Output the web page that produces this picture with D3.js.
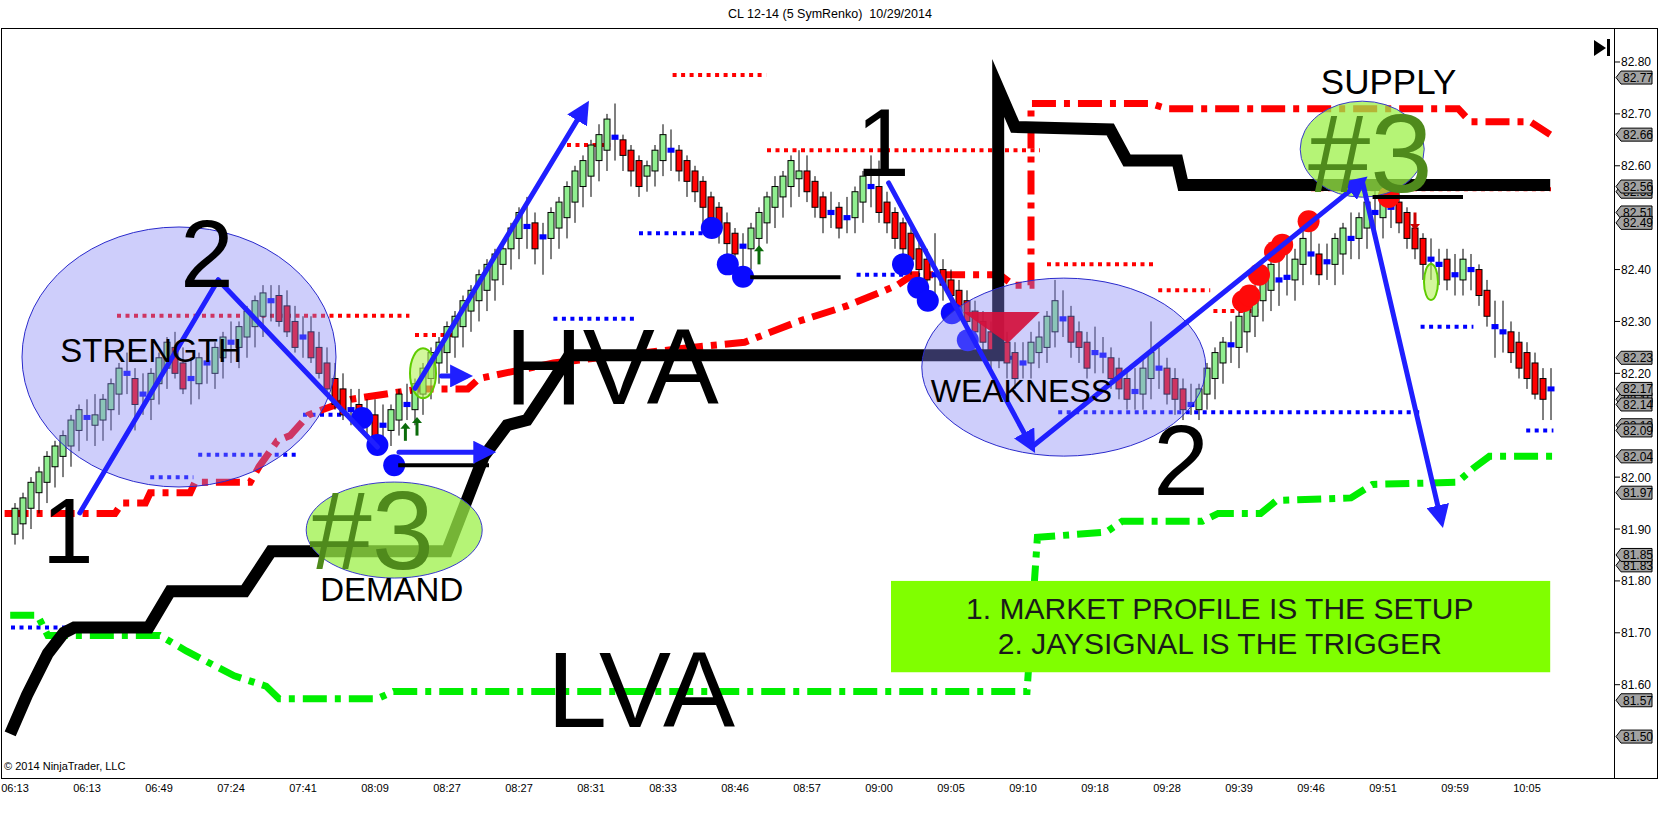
<!DOCTYPE html>
<html><head><meta charset="utf-8">
<script src="https://cdn.jsdelivr.net/npm/d3@7"></script>
<style>body{margin:0;background:#fff;}svg{display:block;font-family:"Liberation Sans",Arial,sans-serif;}</style>
</head><body><svg id="c" width="1661" height="818"></svg>
<script>
// ---------- DATA ----------
const title = "CL 12-14 (5 SymRenko)\u00A0\u00A010/29/2014";
const xLabels = ["06:13","06:13","06:49","07:24","07:41","08:09","08:27","08:27","08:31","08:33","08:46","08:57","09:00","09:05","09:10","09:18","09:28","09:39","09:46","09:51","09:59","10:05"];
const yTicks = [81.6,81.7,81.8,81.9,82.0,82.2,82.3,82.4,82.6,82.7,82.8];
const priceMarkers = [82.55,82.77,82.66,82.56,82.51,82.49,82.23,82.15,82.17,82.14,82.10,82.09,82.04,81.97,81.83,81.85,81.57,81.50];
// candles: [open, close, high, low]
const ohlc = [
[81.89,81.94,81.95,81.87],[81.91,81.96,81.97,81.88],[81.94,81.99,82.00,81.90],[81.97,82.01,82.02,81.93],
[81.99,82.04,82.05,81.95],[82.02,82.06,82.07,81.98],[82.04,82.08,82.09,82.00],[82.06,82.11,82.12,82.02],
[82.09,82.13,82.14,82.05],[82.112,82.118,82.15,82.07],[82.10,82.12,82.16,82.06],[82.11,82.15,82.16,82.07],
[82.13,82.18,82.19,82.09],[82.16,82.21,82.22,82.12],[82.195,82.205,82.24,82.16],[82.19,82.14,82.21,82.09],
[82.155,82.165,82.20,82.12],[82.15,82.20,82.21,82.11],[82.18,82.23,82.24,82.14],[82.21,82.26,82.27,82.17],
[82.25,82.20,82.28,82.19],[82.22,82.17,82.25,82.16],[82.185,82.195,82.23,82.14],[82.18,82.23,82.24,82.15],
[82.215,82.225,82.26,82.18],[82.20,82.25,82.26,82.17],[82.23,82.27,82.28,82.19],[82.255,82.265,82.30,82.22],
[82.25,82.29,82.30,82.21],[82.27,82.32,82.33,82.23],[82.29,82.34,82.35,82.25],[82.31,82.355,82.37,82.27],
[82.335,82.345,82.37,82.30],[82.35,82.30,82.37,82.29],[82.33,82.28,82.36,82.27],[82.30,82.25,82.33,82.24],
[82.265,82.275,82.31,82.23],[82.28,82.23,82.31,82.22],[82.25,82.20,82.28,82.19],[82.22,82.17,82.25,82.16],
[82.19,82.14,82.22,82.13],[82.17,82.12,82.20,82.11],[82.125,82.135,82.17,82.10],[82.14,82.10,82.17,82.09],
[82.105,82.115,82.15,82.08],[82.12,82.08,82.15,82.07],[82.095,82.105,82.14,82.07],[82.09,82.13,82.14,82.06],
[82.11,82.16,82.17,82.08],[82.135,82.145,82.18,82.11],[82.13,82.18,82.19,82.10],[82.16,82.21,82.22,82.12],
[82.19,82.24,82.25,82.15],[82.22,82.26,82.27,82.18],[82.24,82.29,82.30,82.20],[82.27,82.31,82.32,82.23],
[82.29,82.34,82.35,82.25],[82.32,82.36,82.37,82.28],[82.34,82.39,82.40,82.30],[82.36,82.41,82.42,82.32],
[82.38,82.43,82.44,82.34],[82.41,82.44,82.45,82.37],[82.44,82.48,82.49,82.40],[82.46,82.51,82.52,82.42],
[82.478,82.488,82.54,82.44],[82.49,82.44,82.51,82.41],[82.458,82.468,82.49,82.39],[82.46,82.51,82.52,82.42],
[82.48,82.53,82.54,82.44],[82.50,82.56,82.57,82.46],[82.53,82.59,82.60,82.49],[82.56,82.61,82.62,82.52],
[82.58,82.64,82.65,82.54],[82.61,82.66,82.68,82.57],[82.63,82.69,82.70,82.59],[82.65,82.66,82.72,82.61],
[82.65,82.62,82.66,82.59],[82.63,82.59,82.64,82.56],[82.61,82.56,82.62,82.54],[82.58,82.60,82.61,82.55],
[82.59,82.63,82.64,82.56],[82.61,82.66,82.68,82.58],[82.628,82.632,82.67,82.59],[82.63,82.59,82.64,82.57],
[82.61,82.57,82.62,82.54],[82.59,82.55,82.60,82.53],[82.57,82.52,82.58,82.49],[82.54,82.50,82.55,82.47],
[82.52,82.48,82.53,82.45],[82.49,82.45,82.51,82.43],[82.47,82.43,82.48,82.40],[82.44,82.45,82.47,82.40],
[82.44,82.48,82.49,82.40],[82.46,82.51,82.52,82.42],[82.49,82.54,82.55,82.45],[82.52,82.56,82.58,82.48],
[82.54,82.58,82.59,82.50],[82.56,82.61,82.62,82.52],[82.575,82.59,82.63,82.54],[82.59,82.55,82.62,82.53],
[82.57,82.52,82.58,82.50],[82.54,82.50,82.55,82.47],[82.505,82.515,82.55,82.48],[82.52,82.48,82.53,82.46],
[82.495,82.505,82.54,82.47],[82.50,82.55,82.56,82.47],[82.53,82.58,82.59,82.49],[82.555,82.565,82.62,82.52],
[82.56,82.51,82.61,82.49],[82.53,82.49,82.55,82.47],[82.51,82.46,82.52,82.44],[82.49,82.44,82.50,82.41],
[82.47,82.42,82.48,82.39],[82.44,82.40,82.46,82.37],[82.42,82.38,82.44,82.35],[82.385,82.395,82.47,82.34],
[82.40,82.37,82.42,82.34],[82.38,82.35,82.40,82.32],[82.36,82.32,82.38,82.30],[82.34,82.30,82.36,82.27],
[82.32,82.28,82.34,82.26],[82.30,82.26,82.32,82.24],[82.28,82.24,82.30,82.21],[82.24,82.25,82.28,82.21],
[82.26,82.22,82.28,82.19],[82.24,82.19,82.26,82.17],[82.215,82.225,82.26,82.19],[82.22,82.26,82.28,82.19],
[82.24,82.27,82.30,82.21],[82.25,82.31,82.32,82.22],[82.28,82.34,82.38,82.25],[82.30,82.31,82.36,82.27],
[82.31,82.26,82.33,82.23],[82.28,82.25,82.30,82.22],[82.26,82.21,82.28,82.19],[82.235,82.245,82.29,82.20],
[82.23,82.24,82.27,82.20],[82.23,82.19,82.25,82.17],[82.21,82.17,82.23,82.15],[82.19,82.15,82.21,82.13],
[82.16,82.17,82.21,82.13],[82.16,82.21,82.23,82.13],[82.19,82.24,82.30,82.15],[82.205,82.215,82.25,82.17],
[82.21,82.16,82.23,82.14],[82.19,82.15,82.21,82.12],[82.17,82.13,82.19,82.11],[82.135,82.145,82.18,82.12],
[82.13,82.17,82.18,82.11],[82.16,82.21,82.22,82.13],[82.19,82.24,82.25,82.15],[82.22,82.26,82.27,82.18],
[82.25,82.26,82.30,82.22],[82.25,82.31,82.32,82.21],[82.28,82.34,82.35,82.24],[82.31,82.36,82.37,82.27],
[82.34,82.38,82.40,82.30],[82.36,82.41,82.42,82.32],[82.375,82.385,82.44,82.33],[82.38,82.39,82.43,82.35],
[82.38,82.42,82.44,82.34],[82.41,82.46,82.48,82.37],[82.425,82.435,82.48,82.39],[82.43,82.39,82.45,82.37],
[82.41,82.42,82.45,82.38],[82.41,82.46,82.47,82.37],[82.43,82.48,82.49,82.39],[82.455,82.465,82.51,82.42],
[82.46,82.50,82.51,82.42],[82.48,82.53,82.54,82.44],[82.505,82.515,82.56,82.47],[82.50,82.55,82.58,82.46],
[82.515,82.525,82.56,82.48],[82.53,82.49,82.55,82.47],[82.51,82.46,82.52,82.44],[82.48,82.44,82.50,82.42],
[82.46,82.41,82.47,82.38],[82.415,82.425,82.46,82.38],[82.405,82.415,82.44,82.37],[82.42,82.38,82.44,82.36],
[82.385,82.395,82.43,82.35],[82.38,82.42,82.44,82.35],[82.395,82.405,82.43,82.36],[82.40,82.35,82.41,82.33],
[82.36,82.31,82.38,82.29],[82.285,82.295,82.34,82.23],[82.275,82.285,82.34,82.24],[82.28,82.24,82.30,82.22],
[82.26,82.21,82.28,82.19],[82.24,82.19,82.26,82.17],[82.22,82.16,82.24,82.15],[82.19,82.15,82.21,82.11],
[82.168,82.172,82.21,82.11]
];
// indicator lines: [barIndex, price]
const vaHigh = [[-1.3,81.93],[12.5,81.93],[13.4,81.95],[16.3,81.95],[16.9,81.97],[21.9,81.97],[22.5,81.99],[29.4,81.99],[30.5,82.02],[32.8,82.07],[34.4,82.08],[36.7,82.12],[42,82.15],[50.6,82.17],[56.6,82.17],[58,82.19],[67.3,82.22],[84.6,82.25],[91.2,82.26],[97.9,82.30],[104,82.33],[108,82.355],[110.3,82.37],[112.2,82.39],[123.1,82.39],[124.8,82.37],[127,82.37],[127,82.72],[141.9,82.72],[144,82.71],[180.4,82.71],[181.9,82.685],[189.4,82.685],[191.9,82.66]];
const vaLow = [[-0.6,81.734],[2.8,81.734],[4.1,81.695],[18.1,81.695],[21.4,81.665],[27.4,81.617],[31.4,81.597],[33,81.573],[45.3,81.573],[47.3,81.587],[126.5,81.587],[127.8,81.884],[136.4,81.894],[138.4,81.915],[148.4,81.915],[150.4,81.93],[155.7,81.93],[157.7,81.955],[167,81.96],[169.7,81.986],[180.3,81.99],[182.3,82.017],[184.3,82.04],[192.3,82.04]];
const poc = [[-0.6,81.505],[1.5,81.58],[4.1,81.66],[6.1,81.70],[7.4,81.71],[16.7,81.71],[19.4,81.78],[28.7,81.78],[32.0,81.857],[54,81.857],[58.6,82.04],[61.5,82.10],[64,82.11],[66.6,82.17],[69.3,82.235],[122.9,82.235],[122.9,82.75],[125,82.675],[136.9,82.67],[139,82.61],[145.3,82.61],[146,82.563],[191.9,82.563]];
// dotted levels: [startIdx, endIdx, price]
const redLevels = [[12.75,49.3,82.311],[50,55.3,82.274],[82.2,93.9,82.775],[69,74.4,82.64],[94,128.1,82.63],[129,142.3,82.41],[142.9,149.4,82.36],[149.8,155.4,82.32],[162,192,82.555]];
const blueLevels = [[-0.5,16.1,81.71],[16.9,22.3,82.00],[22.9,35.3,82.043],[36,43.3,82.12],[67.3,77.9,82.305],[78,87,82.47],[105.2,117,82.39],[117.8,125.2,82.23],[130.4,175.7,82.125],[175.7,182.3,82.29],[188.9,192.3,82.09]];
const blueDots = [[43.4,82.114],[45.3,82.062],[47.4,82.023],[87.1,82.48],[89.1,82.41],[91,82.386],[111,82.41],[112.9,82.365],[114.1,82.34],[117.1,82.316],[119.1,82.264]];
const redDots = [[153.5,82.339],[154.3,82.35],[155.5,82.39],[157.5,82.434],[158.4,82.448],[161.7,82.493],[171.7,82.54]];
// drawn annotations
const blueArrows = [[8.1,81.931,25.4,82.38,0],[25.4,82.38,45.3,82.058,0],[50,82.171,71.3,82.714,1],[48,82.048,59.3,82.048,1],[53.3,82.195,56.4,82.195,1],[109.2,82.567,127.1,82.058,1],[127.1,82.058,168.4,82.571,1],[168.4,82.571,178.3,81.915,1]];
const blackBars = [[47.9,59.25,82.023],[91.9,103.2,82.385],[169.7,181,82.54]];
const upArrows = [[93,82.41,82.447],[48.8,82.07,82.105],[50.25,82.08,82.116]];
const downArrows = [[175,82.51,82.476]];
const blueZones = [[20.5,82.2315,157,130],[131.1,82.212,142,89]];
const greenZones = [[47.4,81.898,88,48],[168.4,82.632,62,48]];
const smallOvals = [[51,82.20,13,25],[177,82.376,7,18]];
const triangle = [[118.5,82.318],[128.1,82.318],[124.1,82.258]];
const labels = [
 ["STRENGTH",17,82.222,33,"#000"],["2",24,82.366,96,"#000"],["1",6.6,81.834,92,"#000"],
 ["#3",44.6,81.823,112,"#4f8a1c"],["DEMAND",47.1,81.761,33,"#000"],["HVA",74.6,82.141,108,"#000"],
 ["LVA",78.25,81.518,108,"#000"],["1",108.5,82.58,96,"#000"],["WEAKNESS",125.8,82.145,32,"#000"],
 ["2",145.75,81.966,100,"#000"],["SUPPLY",171.7,82.738,35,"#000"],["#3",169.4,82.549,112,"#4f8a1c"]];
const noteBox = [109.5,191.9,81.80,81.624];
const noteLines = [["1. MARKET PROFILE IS THE SETUP",150.6,81.727],["2. JAYSIGNAL IS THE TRIGGER",150.6,81.659]];

// ---------- CHART ----------
const svg = d3.select("#c");
const L=2, R=1614, T=28, B=778;
const x = d3.scaleLinear().domain([-1.625,199.875]).range([L,R]);
const y = d3.scaleLinear().domain([81.4202,82.8655]).range([B,T]);

const defs = svg.append("defs");
defs.append("clipPath").attr("id","clip").append("rect").attr("x",L).attr("y",T).attr("width",R-L).attr("height",B-T);
defs.append("marker").attr("id","ah").attr("viewBox","0 0 10 10").attr("refX",7).attr("refY",5)
  .attr("markerWidth",4.6).attr("markerHeight",4.6).attr("orient","auto")
  .append("path").attr("d","M0,0L10,5L0,10z").attr("fill","#1f1fff");

svg.append("rect").attr("width",1661).attr("height",818).attr("fill","#fff");
svg.append("text").attr("x",830).attr("y",18).attr("text-anchor","middle").attr("font-size",12.5).text(title);

const g = svg.append("g").attr("clip-path","url(#clip)");
const line = d3.line().x(d=>x(d[0])).y(d=>y(d[1]));

// dotted levels
g.selectAll(".bl").data(blueLevels).join("line").attr("x1",d=>x(d[0])).attr("x2",d=>x(d[1]))
 .attr("y1",d=>y(d[2])).attr("y2",d=>y(d[2])).attr("stroke","#0000ff").attr("stroke-width",4).attr("stroke-dasharray","4 4.5");
g.selectAll(".rl").data(redLevels).join("line").attr("x1",d=>x(d[0])).attr("x2",d=>x(d[1]))
 .attr("y1",d=>y(d[2])).attr("y2",d=>y(d[2])).attr("stroke","#ff0000").attr("stroke-width",4).attr("stroke-dasharray","4 4.5");

// value area lines
g.append("path").attr("d",line(vaLow)).attr("fill","none").attr("stroke","#00ee00").attr("stroke-width",7).attr("stroke-dasharray","24 8 6 8");
g.append("path").attr("d",line(vaHigh)).attr("fill","none").attr("stroke","#ff0000").attr("stroke-width",7).attr("stroke-dasharray","24 8 6 8");

// candles
const cg = g.append("g");
ohlc.forEach((d,i)=>{
  const [o,c,h,l]=d; const diff=c-o;
  const col = diff>0.015?"#90ee90":(diff<-0.015?"#ff0000":"#0000ff");
  cg.append("line").attr("x1",x(i)).attr("x2",x(i)).attr("y1",y(h)).attr("y2",y(l)).attr("stroke","#000").attr("stroke-width",1);
  if(col==="#0000ff"){
    const hh=Math.max(Math.abs(y(o)-y(c)),5);
    cg.append("rect").attr("x",x(i)-3.5).attr("y",y((o+c)/2)-hh/2).attr("width",7).attr("height",hh).attr("fill",col);
  } else {
    cg.append("rect").attr("x",x(i)-3).attr("y",y(Math.max(o,c))).attr("width",6).attr("height",Math.abs(y(o)-y(c)))
      .attr("fill",col).attr("stroke","#000").attr("stroke-width",1);
  }
});

// POC black line
g.append("path").attr("d",line(poc)).attr("fill","none").attr("stroke","#000").attr("stroke-width",12).attr("stroke-linejoin","miter").attr("stroke-miterlimit",6);

// dots
g.selectAll(".bd").data(blueDots).join("circle").attr("cx",d=>x(d[0])).attr("cy",d=>y(d[1])).attr("r",11).attr("fill","#0a0aff");
g.selectAll(".rd").data(redDots).join("circle").attr("cx",d=>x(d[0])).attr("cy",d=>y(d[1])).attr("r",11).attr("fill","#ff0a0a");

// small signal arrows
upArrows.forEach(a=>{
  g.append("line").attr("x1",x(a[0])).attr("x2",x(a[0])).attr("y1",y(a[1])).attr("y2",y(a[2])+5).attr("stroke","#0b6b0b").attr("stroke-width",3);
  g.append("path").attr("d",`M${x(a[0])-5},${y(a[2])+6}L${x(a[0])},${y(a[2])}L${x(a[0])+5},${y(a[2])+6}z`).attr("fill","#0b6b0b");
});
downArrows.forEach(a=>{
  g.append("line").attr("x1",x(a[0])).attr("x2",x(a[0])).attr("y1",y(a[1])).attr("y2",y(a[2])-5).attr("stroke","#cc0000").attr("stroke-width",3);
  g.append("path").attr("d",`M${x(a[0])-5},${y(a[2])-6}L${x(a[0])},${y(a[2])}L${x(a[0])+5},${y(a[2])-6}z`).attr("fill","#cc0000");
});

// zones
g.selectAll(".bz").data(blueZones).join("ellipse").attr("cx",d=>x(d[0])).attr("cy",d=>y(d[1])).attr("rx",d=>d[2]).attr("ry",d=>d[3])
 .attr("fill","#8585f5").attr("fill-opacity",0.4).attr("stroke","#2a2acc").attr("stroke-width",1);
g.selectAll(".gz").data(greenZones).join("ellipse").attr("cx",d=>x(d[0])).attr("cy",d=>y(d[1])).attr("rx",d=>d[2]).attr("ry",d=>d[3])
 .attr("fill","#9cf048").attr("fill-opacity",0.75).attr("stroke","#3a3acc").attr("stroke-width",1);
g.selectAll(".so").data(smallOvals).join("ellipse").attr("cx",d=>x(d[0])).attr("cy",d=>y(d[1])).attr("rx",d=>d[2]).attr("ry",d=>d[3])
 .attr("fill","#b6f25a").attr("fill-opacity",0.6).attr("stroke","#5fcc00").attr("stroke-width",2);

// triangle
g.append("path").attr("d","M"+triangle.map(p=>x(p[0])+","+y(p[1])).join("L")+"Z").attr("fill","#d4103c").attr("fill-opacity",0.92);

// black short bars
g.selectAll(".kb").data(blackBars).join("line").attr("x1",d=>x(d[0])).attr("x2",d=>x(d[1])).attr("y1",d=>y(d[2])).attr("y2",d=>y(d[2]))
 .attr("stroke","#000").attr("stroke-width",4);

// blue drawn arrows
g.selectAll(".ba").data(blueArrows).join("line").attr("x1",d=>x(d[0])).attr("y1",d=>y(d[1])).attr("x2",d=>x(d[2])).attr("y2",d=>y(d[3]))
 .attr("stroke","#1f1fff").attr("stroke-width",5).attr("stroke-linecap","round").attr("marker-end",d=>d[4]?"url(#ah)":null);

// labels
g.selectAll(".lb").data(labels).join("text").attr("x",d=>x(d[1])).attr("y",d=>y(d[2])).attr("text-anchor","middle")
 .attr("font-size",d=>d[3]).attr("fill",d=>d[4]).text(d=>d[0]);

// note box
g.append("rect").attr("x",x(noteBox[0])).attr("y",y(noteBox[2])).attr("width",x(noteBox[1])-x(noteBox[0])).attr("height",y(noteBox[3])-y(noteBox[2])).attr("fill","#80ff00");
g.selectAll(".nl").data(noteLines).join("text").attr("x",d=>x(d[1])).attr("y",d=>y(d[2])).attr("text-anchor","middle")
 .attr("font-size",30).attr("fill","#1a1a1a").text(d=>d[0]);

// frame
svg.append("rect").attr("x",1.5).attr("y",28.5).attr("width",1656).attr("height",B-28).attr("fill","none").attr("stroke","#000").attr("stroke-width",1);
svg.append("line").attr("x1",R+0.5).attr("x2",R+0.5).attr("y1",T).attr("y2",B).attr("stroke","#000");
svg.append("text").attr("x",4).attr("y",770).attr("font-size",11).text("\u00A9 2014 NinjaTrader, LLC");
// play-end icon
svg.append("path").attr("d","M1594,40L1606,48L1594,56Z").attr("fill","#000");
svg.append("rect").attr("x",1607).attr("y",39).attr("width",3).attr("height",17).attr("fill","#000");

// y axis
const ya = svg.append("g");
yTicks.forEach(v=>{
  ya.append("line").attr("x1",R).attr("x2",R+6).attr("y1",y(v)).attr("y2",y(v)).attr("stroke","#000");
  ya.append("text").attr("x",R+7).attr("y",y(v)+4.5).attr("font-size",12).text(v.toFixed(2));
});
priceMarkers.forEach(v=>{
  const yy=y(v);
  ya.append("path").attr("d",`M${R+2},${yy}L${R+7},${yy-6.5}L${R+38},${yy-6.5}L${R+38},${yy+6.5}L${R+7},${yy+6.5}Z`)
    .attr("fill","#a3a3a3").attr("stroke","#000").attr("stroke-width",1);
  ya.append("text").attr("x",R+9).attr("y",yy+4.5).attr("font-size",12).text(v.toFixed(2));
});

// x axis labels
svg.selectAll(".xl").data(xLabels).join("text").attr("x",(d,i)=>x(i*9)).attr("y",792).attr("text-anchor","middle")
 .attr("font-size",11).text(d=>d);
</script></body></html>
